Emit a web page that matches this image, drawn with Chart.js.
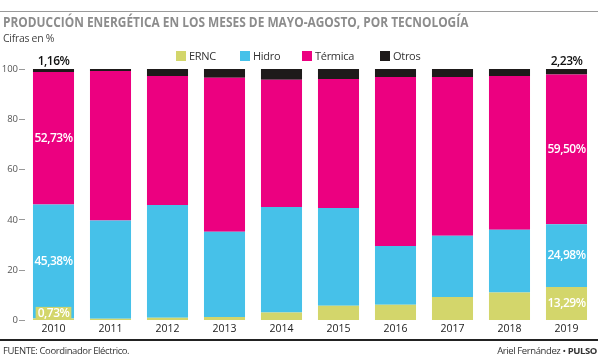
<!DOCTYPE html>
<html>
<head>
<meta charset="utf-8">
<script src="https://cdn.jsdelivr.net/npm/chart.js@4.4.1/dist/chart.umd.min.js"></script>
<style>
    body { margin: 0; background: #fff; }
    #wrap { position: relative; width: 600px; height: 362px; overflow: hidden; font-family: "Open Sans", sans-serif; }
    #grafico { position: absolute; left: 0; top: 0; }
    .linea-top { position: absolute; left: 0; top: 11px; width: 598px; height: 1px; background: #9a9a9a; }
    .titulo { position: absolute; left: 3px; top: 12px; font-family: "Open Sans", sans-serif; font-weight: bold; font-size: 14px; color: #8c8c8c; white-space: nowrap; transform: scaleX(0.85); transform-origin: left top; }
    .subtitulo { position: absolute; left: 3px; top: 31px; font-size: 10.5px; color: #444; letter-spacing: -0.3px; }
    .leyenda { position: absolute; top: 48px; font-size: 11px; color: #333; white-space: nowrap; letter-spacing: -0.3px; }
    .leyenda span { display: inline-block; width: 10px; height: 10px; margin-right: 3px; vertical-align: -1px; }
    .linea-bottom { position: absolute; left: 0; top: 339px; width: 598px; height: 2px; background: #222; }
    .fuente { position: absolute; left: 3px; top: 344px; font-size: 9.5px; color: #333; letter-spacing: -0.4px; }
    .firma { position: absolute; right: 3px; top: 344px; font-size: 9.5px; color: #333; letter-spacing: -0.4px; }
</style>
</head>
<body>
<div id="wrap">
    <canvas id="grafico" width="600" height="362"></canvas>
    <div class="linea-top"></div>
    <div class="titulo">PRODUCCIÓN ENERGÉTICA EN LOS MESES DE MAYO-AGOSTO, POR TECNOLOGÍA</div>
    <div class="subtitulo">Cifras en %</div>
    <div class="leyenda" style="left:176px"><span style="background:#d3d66b"></span>ERNC</div>
    <div class="leyenda" style="left:240px"><span style="background:#46c1e9"></span>Hidro</div>
    <div class="leyenda" style="left:302px"><span style="background:#ec0080"></span>Térmica</div>
    <div class="leyenda" style="left:380px"><span style="background:#1e1a1a"></span>Otros</div>
    <div class="linea-bottom"></div>
    <div class="fuente">FUENTE: Coordinador Eléctrico.</div>
    <div class="firma">Ariel Fernández • <b>PULSO</b></div>
</div>
<script>
const anios = ['2010', '2011', '2012', '2013', '2014', '2015', '2016', '2017', '2018', '2019'];
const ernc = [0.73, 0.7, 1.1, 1.4, 3.1, 5.8, 6.2, 9.3, 11.1, 13.29];
const hidro = [45.38, 39.0, 44.8, 33.9, 42.0, 38.9, 23.4, 24.4, 25.0, 24.98];
const termica = [52.73, 59.5, 51.3, 61.2, 50.6, 51.3, 67.2, 63.1, 61.1, 59.50];
const otros = [1.16, 0.8, 2.8, 3.5, 4.3, 4.0, 3.2, 3.2, 2.8, 2.23];
const ticksY = [0, 20, 40, 60, 80, 100];

const colores = ['#d3d66b', '#46c1e9', '#ec0080', '#1e1a1a'];

function formato(v) {
    return v.toFixed(2).replace('.', ',') + '%';
}

// etiquetas solo en el primer y ultimo año
const etiquetas = {
    id: 'etiquetas',
    afterDatasetsDraw(chart) {
        const c = chart.ctx;
        c.save();
        c.font = '600 12px "Open Sans", sans-serif';
        c.textAlign = 'center';
        c.textBaseline = 'middle';
        [0, anios.length - 1].forEach(function (i) {
            chart.data.datasets.forEach(function (ds, d) {
                const bar = chart.getDatasetMeta(d).data[i];
                const v = ds.data[i];
                const txt = formato(v);
                c.letterSpacing = '-0.5px';
                if (d === 3) {
                    c.fillStyle = '#111';
                    c.fillText(txt, bar.x, bar.y - 7);
                } else if (v < 2) {
                    const w = c.measureText(txt).width + 4;
                    c.fillStyle = colores[0];
                    c.fillRect(bar.x - w / 2, bar.base - 13, w, 13);
                    c.fillStyle = '#fff';
                    c.fillText(txt, bar.x, bar.base - 6);
                } else {
                    c.fillStyle = '#fff';
                    c.fillText(txt, bar.x, (bar.y + bar.base) / 2);
                }
            });
        });
        c.restore();
    }
};

document.addEventListener('DOMContentLoaded', function () {
    const ctx = document.getElementById('grafico').getContext('2d');

    const grafico = new Chart(ctx, {
        type: 'bar',
        data: {
            labels: anios,
            datasets: [
                { label: 'ERNC', data: ernc, backgroundColor: colores[0] },
                { label: 'Hidro', data: hidro, backgroundColor: colores[1] },
                { label: 'Térmica', data: termica, backgroundColor: colores[2] },
                { label: 'Otros', data: otros, backgroundColor: colores[3] }
            ]
        },
        options: {
            responsive: false,
            animation: false,
            barPercentage: 0.72,
            categoryPercentage: 1,
            layout: {
                padding: { top: 69, right: 5, bottom: 25, left: 0 }
            },
            plugins: {
                legend: { display: false },
                tooltip: { enabled: false }
            },
            scales: {
                x: {
                    stacked: true,
                    grid: { display: false, drawTicks: false },
                    border: { display: false },
                    ticks: {
                        color: '#222',
                        padding: 2,
                        font: { family: 'Open Sans', size: 10.5 }
                    }
                },
                y: {
                    stacked: true,
                    min: 0,
                    max: 100,
                    afterFit: function (scale) { scale.width = 25; },
                    afterBuildTicks: function (scale) {
                        scale.ticks = ticksY.map(function (v) { return { value: v }; });
                    },
                    grid: {
                        drawOnChartArea: false,
                        drawTicks: true,
                        tickLength: 6,
                        color: '#999'
                    },
                    border: { display: false },
                    ticks: {
                        color: '#555',
                        padding: 1,
                        font: { family: 'Open Sans', size: 9.5 }
                    }
                }
            }
        },
        plugins: [etiquetas]
    });
});
</script>
</body>
</html>
